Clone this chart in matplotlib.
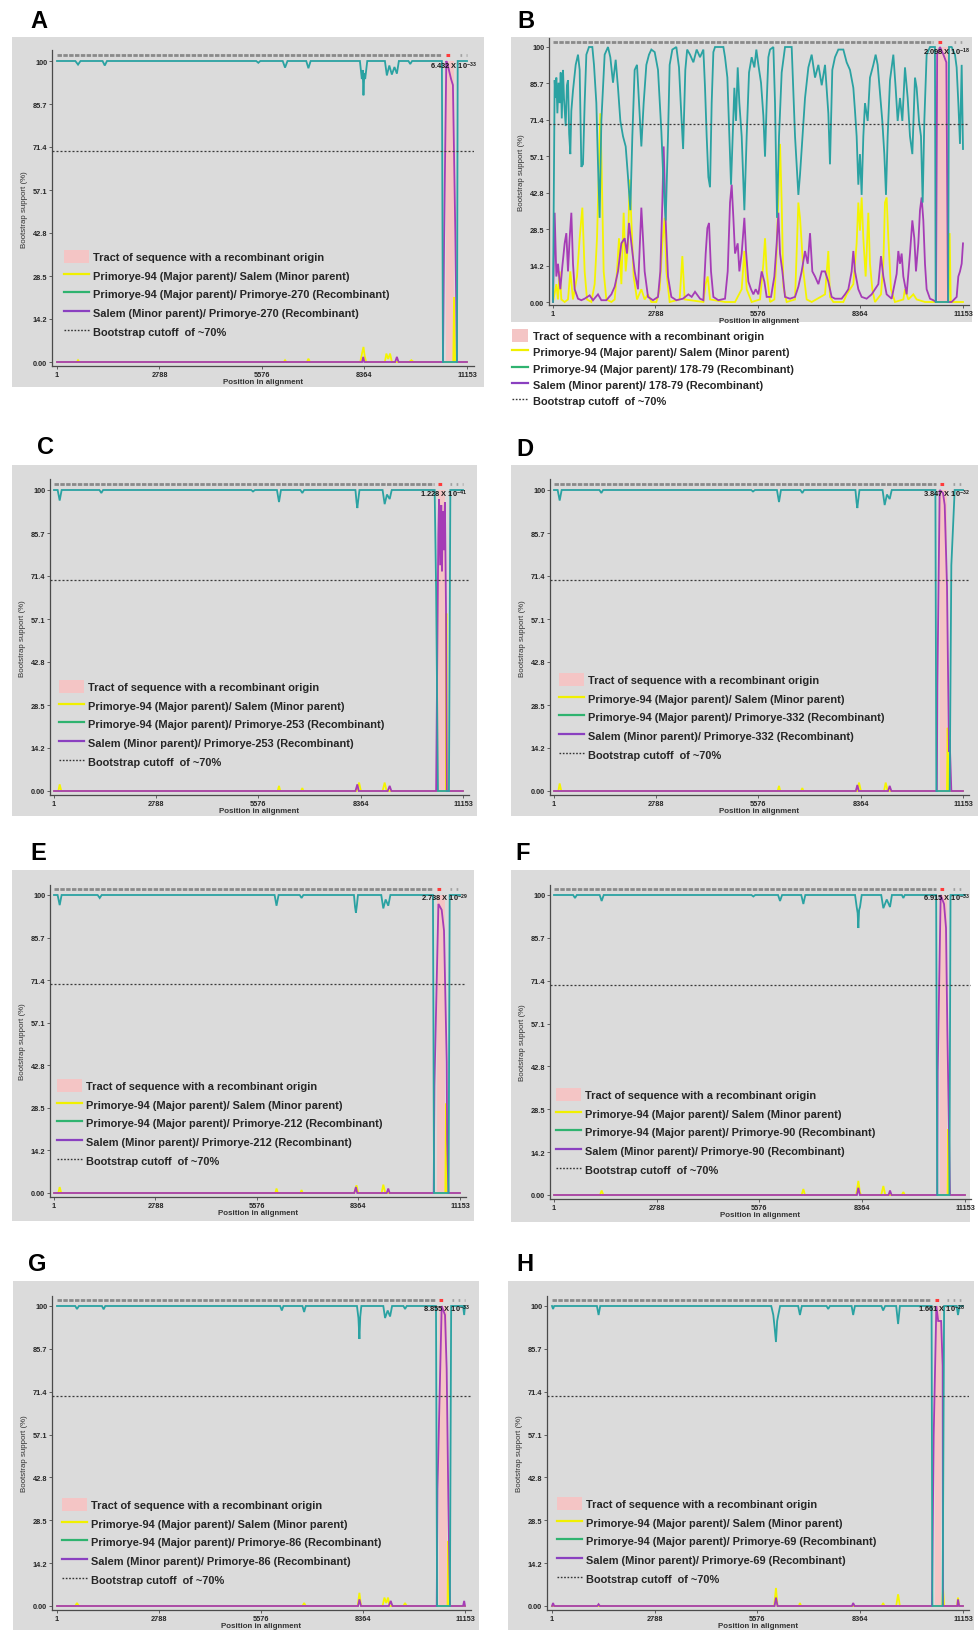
import numpy as np
import matplotlib.pyplot as plt
from matplotlib.lines import Line2D
from matplotlib.patches import Patch, Rectangle

plt.rcParams['font.family'] = ['Liberation Sans', 'DejaVu Sans']
plt.rcParams['mathtext.fontset'] = 'custom'
plt.rcParams['mathtext.bf'] = 'Liberation Sans:bold'
plt.rcParams['mathtext.rm'] = 'Liberation Sans'
plt.rcParams['mathtext.default'] = 'bf'

W, H = 979, 1631

# ---------------- data ----------------
X_TICKS = [1, 2788, 5576, 8364, 11153]
Y_TICKS = [0, 14.29, 28.57, 42.86, 57.14, 71.43, 85.71, 100]
Y_TICK_LABELS = ['0.00', '14.2', '28.5', '42.8', '57.1', '71.4', '85.7', '100']
CUTOFF = 70

# (position, bootstrap %) pairs
A_MAJOR = [(1, 100), (500, 100), (573, 98.8), (640, 100), (1240, 100), (1300, 98.5), (1360, 100),
           (5420, 100), (5477, 99.4), (5530, 100), (6140, 100), (6204, 97.8), (6270, 100), (6780, 100),
           (6839, 97.6), (6900, 100), (8240, 100), (8292, 94), (8315, 97), (8337, 88.6), (8360, 96),
           (8383, 94), (8440, 100), (8920, 100), (8973, 95.2), (9040, 98.5), (9109, 95.5), (9180, 98),
           (9246, 95.8), (9300, 100), (9560, 100), (9609, 99), (9660, 100), (10470, 100), (10499, 0),
           (10880, 0), (10900, 100), (11153, 100)]
A_MINOR = [(1, 0), (540, 0), (573, 0.6), (610, 0), (6170, 0), (6204, 0.6), (6240, 0), (6800, 0),
           (6839, 1.1), (6880, 0), (8250, 0), (8300, 3), (8337, 5), (8370, 2), (8410, 0), (8920, 0),
           (8960, 2.8), (9010, 1), (9060, 2.8), (9110, 0), (9580, 0), (9640, 0.6), (9700, 0),
           (10780, 0), (10800, 21.6), (10830, 0), (11153, 0)]
A_RECOMB = [(1, 0), (8300, 0), (8330, 1.7), (8360, 0), (9200, 0), (9246, 1.7), (9290, 0), (10499, 0),
            (10530, 41), (10590, 100), (10630, 98.6), (10720, 94), (10770, 92), (10835, 43),
            (10880, 0), (11153, 0)]
A_TRACT = (10589, 10807)

B_MAJOR = [(1, 0), (46, 87), (70, 80), (92, 88), (120, 74), (150, 86), (182, 78), (210, 90), (240, 72),
           (273, 91), (300, 80), (346, 69), (380, 85), (409, 87), (440, 66), (472, 58), (500, 75),
           (545, 83), (618, 93), (681, 97), (726, 91), (772, 53), (817, 54), (862, 78), (908, 97),
           (980, 100), (1071, 100), (1116, 93), (1180, 78), (1225, 54), (1270, 33), (1316, 71),
           (1406, 97), (1497, 100), (1560, 96), (1633, 86), (1706, 95), (1769, 84), (1833, 71),
           (1905, 65), (1978, 61), (2041, 49), (2105, 36), (2159, 65), (2222, 91), (2286, 93),
           (2340, 78), (2404, 61), (2467, 78), (2540, 93), (2612, 97), (2676, 99), (2767, 98),
           (2857, 91), (2948, 67), (3011, 45), (3066, 32), (3129, 65), (3174, 93), (3247, 99),
           (3356, 100), (3428, 92), (3492, 73), (3540, 60), (3600, 91), (3650, 99), (3728, 97),
           (3819, 94), (3909, 99), (4000, 96), (4091, 99), (4136, 84), (4181, 65), (4227, 49),
           (4272, 45), (4317, 78), (4363, 98), (4408, 100), (4635, 100), (4680, 96), (4744, 88),
           (4798, 65), (4843, 46), (4889, 65), (4934, 84), (4979, 71), (5025, 92), (5070, 78),
           (5133, 65), (5206, 36), (5269, 65), (5333, 90), (5405, 96), (5478, 92), (5532, 99),
           (5587, 93), (5659, 86), (5723, 73), (5768, 57), (5813, 78), (5859, 96), (5904, 99),
           (5995, 100), (6040, 78), (6094, 33), (6149, 65), (6221, 90), (6312, 100), (6493, 100),
           (6584, 65), (6675, 42), (6720, 50), (6765, 60), (6856, 80), (6947, 92), (7037, 97),
           (7128, 88), (7219, 93), (7310, 85), (7400, 93), (7490, 74), (7535, 54), (7598, 91),
           (7671, 96), (7762, 99), (7898, 99), (7988, 94), (8079, 91), (8170, 84), (8215, 75),
           (8260, 65), (8306, 46), (8351, 58), (8396, 42), (8442, 65), (8487, 78), (8560, 71),
           (8623, 88), (8714, 93), (8777, 97), (8832, 93), (8895, 82), (8958, 71), (9013, 58),
           (9058, 42), (9104, 65), (9167, 87), (9258, 97), (9321, 84), (9376, 71), (9439, 80),
           (9503, 71), (9575, 92), (9648, 80), (9711, 65), (9775, 58), (9847, 88), (9892, 84),
           (9956, 71), (10010, 65), (10056, 39), (10101, 71), (10164, 97), (10255, 100), (10390, 100),
           (10410, 0), (10750, 0), (10772, 100), (10844, 100), (10935, 97), (10980, 92), (11026, 78),
           (11071, 62), (11117, 93), (11153, 60)]
B_MINOR = [(1, 0), (92, 7), (137, 1), (182, 12), (228, 1), (318, 0), (409, 1), (472, 12), (545, 1),
           (654, 10), (726, 25), (799, 37), (862, 12), (926, 1), (1044, 0), (1134, 7), (1198, 25),
           (1252, 54), (1288, 74), (1325, 52), (1379, 12), (1452, 1), (1588, 0), (1678, 1), (1742, 12),
           (1796, 25), (1860, 7), (1923, 35), (1978, 12), (2041, 23), (2086, 48), (2132, 32),
           (2195, 10), (2286, 1), (2404, 5), (2494, 1), (2585, 3), (2676, 0), (2812, 0), (2903, 5),
           (2975, 23), (3038, 33), (3084, 12), (3174, 0), (3446, 1), (3519, 18), (3582, 1), (4091, 0),
           (4154, 7), (4209, 10), (4272, 1), (4680, 0), (4952, 0), (5133, 5), (5206, 20), (5269, 5),
           (5405, 0), (5632, 1), (5723, 15), (5768, 25), (5813, 12), (5904, 0), (6022, 1), (6085, 20),
           (6176, 62), (6221, 39), (6267, 6), (6357, 0), (6584, 1), (6675, 39), (6720, 33), (6765, 23),
           (6811, 12), (6901, 1), (7037, 0), (7400, 3), (7490, 20), (7535, 2), (7626, 0), (7898, 0),
           (7988, 3), (8079, 5), (8170, 7), (8260, 23), (8306, 39), (8351, 28), (8396, 41), (8442, 25),
           (8505, 10), (8578, 35), (8623, 15), (8686, 5), (8759, 0), (8922, 3), (8986, 15), (9031, 39),
           (9076, 41), (9122, 25), (9194, 5), (9303, 0), (9530, 1), (9575, 5), (9666, 1), (9802, 3),
           (9892, 1), (10119, 0), (10754, 0), (10790, 27), (10820, 0), (11153, 0)]
B_RECOMB = [(1, 0), (46, 35), (92, 10), (137, 15), (200, 5), (255, 14), (318, 23), (364, 27), (409, 12),
            (454, 25), (500, 35), (545, 15), (590, 5), (681, 1.3), (772, 0.7), (862, 1.3), (998, 2.6),
            (1089, 0.7), (1225, 3), (1316, 0.7), (1452, 0.7), (1588, 3), (1678, 6), (1769, 12),
            (1860, 23), (1950, 25), (2014, 19), (2068, 31), (2132, 23), (2222, 12), (2313, 5),
            (2404, 37), (2449, 25), (2494, 12), (2585, 2), (2721, 0.7), (2857, 2), (2920, 12),
            (2975, 39), (3011, 61), (3066, 32), (3129, 10), (3220, 2), (3356, 0.7), (3537, 1.3),
            (3683, 3), (3773, 2), (3864, 4), (4000, 1.3), (4091, 0.7), (4154, 19), (4200, 29),
            (4245, 31), (4299, 12), (4363, 2), (4499, 0.7), (4680, 1.3), (4753, 12), (4816, 39),
            (4861, 46), (4907, 33), (4952, 19), (5025, 23), (5070, 12), (5133, 19), (5206, 33),
            (5251, 20), (5315, 8), (5387, 5), (5451, 3), (5514, 5), (5587, 3), (5677, 12), (5750, 8),
            (5813, 2), (5931, 2), (6022, 10), (6085, 23), (6131, 35), (6176, 19), (6240, 12), (6312, 2),
            (6448, 1.3), (6584, 2), (6675, 6), (6765, 12), (6856, 20), (6929, 15), (6992, 27),
            (7055, 12), (7128, 10), (7219, 7), (7310, 12), (7400, 12), (7490, 8), (7580, 2),
            (7671, 1.3), (7852, 1.3), (7943, 3), (8034, 5), (8124, 12), (8170, 20), (8215, 12),
            (8306, 5), (8396, 2), (8532, 1.3), (8668, 3), (8759, 5), (8850, 7), (8922, 18), (8986, 10),
            (9076, 3), (9212, 1.3), (9348, 11), (9394, 20), (9439, 15), (9484, 19), (9530, 10),
            (9620, 3), (9711, 19), (9775, 32), (9829, 25), (9874, 12), (9938, 23), (9983, 36),
            (10028, 41), (10074, 32), (10119, 15), (10164, 5), (10255, 1.3), (10346, 0.7), (10420, 0),
            (10450, 97), (10527, 100), (10620, 97), (10700, 94), (10745, 0), (10844, 0), (10980, 2),
            (11026, 10), (11071, 12), (11117, 15), (11153, 23)]
B_TRACT = (10470, 10760)

C_MAJOR = [(1, 100), (100, 100), (156, 96.5), (210, 100), (1240, 100), (1292, 99), (1340, 100),
           (5380, 100), (5427, 99.5), (5480, 100), (6080, 100), (6136, 96), (6190, 100), (6720, 100),
           (6772, 99), (6820, 100), (8220, 100), (8250, 96), (8272, 94), (8295, 96.5), (8330, 100),
           (8960, 100), (9017, 95.3), (9080, 98.5), (9154, 97), (9210, 100), (10380, 100),
           (10420, 67), (10470, 0), (10770, 0), (10808, 100), (11153, 100)]
C_MINOR = [(1, 0), (120, 0), (156, 2.2), (200, 0), (6100, 0), (6136, 1.7), (6170, 0), (6740, 0),
           (6772, 1), (6800, 0), (8250, 0), (8320, 2.8), (8370, 0), (8960, 0), (9017, 2.8), (9070, 0),
           (10685, 0), (10700, 59), (10715, 0), (11153, 0)]
C_RECOMB = [(1, 0), (8220, 0), (8272, 2.2), (8310, 0), (9100, 0), (9154, 1.7), (9200, 0), (10420, 0),
            (10440, 29), (10480, 85), (10500, 97), (10530, 75), (10560, 95), (10580, 73), (10600, 93),
            (10630, 80), (10660, 96), (10690, 60), (10712, 0), (11153, 0)]
C_TRACT = (10472, 10654)

D_MAJOR = [(1, 100), (100, 100), (156, 96.5), (210, 100), (1240, 100), (1292, 99), (1340, 100),
           (5380, 100), (5427, 99.5), (5480, 100), (6080, 100), (6136, 96), (6190, 100), (6720, 100),
           (6772, 99), (6820, 100), (8220, 100), (8250, 96), (8272, 94), (8295, 96.5), (8330, 100),
           (8960, 100), (9017, 95), (9080, 98.5), (9154, 97), (9210, 100), (10400, 100), (10427, 0),
           (10790, 0), (10835, 75), (10926, 100), (11153, 100)]
D_MINOR = [(1, 0), (120, 0), (156, 2.5), (200, 0), (6100, 0), (6136, 1.7), (6170, 0), (6740, 0),
           (6772, 1), (6800, 0), (8270, 0), (8318, 2.8), (8370, 0), (9000, 0), (9045, 2.8), (9100, 0),
           (10715, 0), (10735, 21), (10755, 0), (11153, 0)]
D_RECOMB = [(1, 0), (8230, 0), (8272, 2), (8310, 0), (9110, 0), (9154, 1.7), (9200, 0), (10440, 0),
            (10454, 35), (10517, 100), (10608, 99), (10654, 95), (10717, 68), (10771, 13), (10790, 17),
            (10835, 0), (11153, 0)]
D_TRACT = (10536, 10718)

E_MAJOR = [(1, 100), (100, 100), (157, 96.6), (210, 100), (1200, 100), (1256, 99), (1310, 100),
           (6060, 100), (6113, 96.4), (6170, 100), (6750, 100), (6801, 99), (6850, 100), (8240, 100),
           (8270, 96), (8294, 94), (8320, 96.5), (8350, 100), (8990, 100), (9046, 95.5), (9110, 98.5),
           (9183, 96.4), (9240, 100), (10410, 100), (10440, 0), (10840, 0), (10870, 100), (11153, 100)]
E_MINOR = [(1, 0), (120, 0), (157, 2), (200, 0), (6080, 0), (6113, 1.5), (6150, 0), (6770, 0),
           (6801, 1), (6830, 0), (8250, 0), (8310, 2.6), (8360, 0), (9000, 0), (9046, 2.8), (9100, 0),
           (10750, 0), (10769, 30), (10790, 0), (11153, 0)]
E_RECOMB = [(1, 0), (8250, 0), (8294, 2), (8330, 0), (9140, 0), (9183, 1.5), (9220, 0), (10430, 0),
            (10450, 36), (10560, 97), (10650, 95), (10714, 88), (10788, 44), (10800, 18), (10833, 0),
            (11153, 0)]
E_TRACT = (10512, 10741)

F_MAJOR = [(1, 100), (520, 100), (571, 99), (620, 100), (1240, 100), (1294, 98), (1350, 100),
           (5360, 100), (5410, 99.5), (5460, 100), (6080, 100), (6134, 98), (6190, 100), (6710, 100),
           (6767, 97), (6820, 100), (8170, 100), (8214, 96), (8240, 94), (8259, 89), (8280, 95),
           (8304, 96), (8350, 100), (8880, 100), (8937, 95.6), (9030, 98.5), (9118, 96), (9170, 100),
           (9440, 100), (9480, 99), (9520, 100), (10370, 100), (10400, 0), (10730, 0), (10760, 100),
           (11153, 100)]
F_MINOR = [(1, 0), (1250, 0), (1294, 1.5), (1340, 0), (6720, 0), (6767, 2), (6810, 0), (8200, 0),
           (8259, 4.7), (8300, 1), (8330, 0), (8880, 0), (8937, 3), (8990, 0), (9440, 0), (9480, 1),
           (9520, 0), (10680, 0), (10701, 22), (10720, 0), (11153, 0)]
F_RECOMB = [(1, 0), (8220, 0), (8259, 2.4), (8300, 0), (9080, 0), (9118, 1.5), (9160, 0), (10400, 0),
            (10412, 41), (10493, 100), (10584, 97), (10638, 89), (10674, 55), (10746, 0), (11153, 0)]
F_TRACT = (10475, 10674)

G_MAJOR = [(1, 100), (500, 100), (547, 99), (600, 100), (1230, 100), (1276, 98.9), (1320, 100),
           (6100, 100), (6146, 98.5), (6190, 100), (6710, 100), (6756, 98), (6800, 100), (8200, 100),
           (8240, 96), (8267, 89), (8290, 96.5), (8320, 100), (8920, 100), (8968, 96), (9040, 98.5),
           (9105, 96.5), (9160, 100), (9470, 100), (9514, 99), (9560, 100), (10360, 100), (10390, 0),
           (10740, 0), (10775, 100), (11100, 100), (11130, 97), (11153, 100)]
G_MINOR = [(1, 0), (500, 0), (547, 1), (600, 0), (6710, 0), (6756, 1), (6800, 0), (8220, 0),
           (8267, 4.4), (8310, 0), (8900, 0), (8950, 2.8), (9000, 1), (9050, 2.8), (9090, 0), (9470, 0),
           (9514, 1), (9560, 0), (10675, 0), (10695, 21.7), (10720, 0), (11153, 0)]
G_RECOMB = [(1, 0), (8230, 0), (8267, 2.2), (8310, 0), (9070, 0), (9123, 1.7), (9170, 0), (10380, 0),
            (10400, 39), (10516, 100), (10607, 97), (10652, 79), (10698, 35), (10743, 0), (11100, 0),
            (11130, 1.7), (11153, 0)]
G_TRACT = (10452, 10652)

H_MAJOR = [(1, 100), (30, 99), (60, 100), (1220, 100), (1265, 97), (1310, 100), (5950, 100),
           (6006, 97), (6040, 93), (6078, 88), (6110, 95), (6141, 97), (6190, 100), (6680, 100),
           (6728, 97), (6780, 100), (7450, 100), (7496, 99), (7540, 100), (8130, 100), (8173, 97),
           (8220, 100), (8940, 100), (8986, 98.5), (9040, 100), (9340, 100), (9392, 94), (9440, 100),
           (10300, 100), (10322, 0), (10600, 0), (10640, 100), (10980, 100), (11017, 97), (11060, 100),
           (11153, 100)]
H_MINOR = [(1, 0), (6030, 0), (6078, 6), (6120, 0), (6700, 0), (6728, 1), (6760, 0), (8950, 0),
           (8986, 1), (9020, 0), (9340, 0), (9392, 3.9), (9440, 0), (10590, 0), (10611, 6), (10640, 0),
           (10990, 0), (11017, 2.8), (11050, 0), (11153, 0)]
H_RECOMB = [(1, 0), (30, 1), (60, 0), (1230, 0), (1265, 0.6), (1300, 0), (6040, 0), (6078, 2.8),
            (6120, 0), (8140, 0), (8173, 1), (8210, 0), (10310, 0), (10322, 14), (10358, 57),
            (10430, 100), (10480, 95), (10560, 95), (10600, 80), (10611, 0), (11000, 0), (11017, 2.2),
            (11050, 0), (11153, 0)]
H_TRACT = (10385, 10565)

RECOMBINANTS = {'A': 'Primorye-270', 'B': '178-79', 'C': 'Primorye-253', 'D': 'Primorye-332',
                'E': 'Primorye-212', 'F': 'Primorye-90', 'G': 'Primorye-86', 'H': 'Primorye-69'}
PVALUES = {'A': ('6.432', '-33'), 'B': ('2.098', '-18'), 'C': ('1.228', '-41'), 'D': ('3.847', '-32'),
           'E': ('2.738', '-29'), 'F': ('6.915', '-33'), 'G': ('8.855', '-33'), 'H': ('1.661', '-28')}

SERIES = {
    'A': (A_MAJOR, A_MINOR, A_RECOMB, A_TRACT),
    'B': (B_MAJOR, B_MINOR, B_RECOMB, B_TRACT),
    'C': (C_MAJOR, C_MINOR, C_RECOMB, C_TRACT),
    'D': (D_MAJOR, D_MINOR, D_RECOMB, D_TRACT),
    'E': (E_MAJOR, E_MINOR, E_RECOMB, E_TRACT),
    'F': (F_MAJOR, F_MINOR, F_RECOMB, F_TRACT),
    'G': (G_MAJOR, G_MINOR, G_RECOMB, G_TRACT),
    'H': (H_MAJOR, H_MINOR, H_RECOMB, H_TRACT),
}

# ---------------- layout (pixels) ----------------
# box: grey panel; x1/x2: pixel of position 1 / 11153; y0/y100: pixel of 0 / 100 %
LAYOUT = {
    'A': dict(box=(12, 38, 484, 388), letter=(39, 22), x1=57, x2=467, y0=363, y100=62, left=52, bottom=367, right=474, leg=(64, 251), note=(477, 66)),
    'B': dict(box=(511, 38, 972, 323), letter=(526, 21), x1=553, x2=963, y0=303, y100=48, left=549, bottom=306, right=969, leg=(512, 330), note=(970, 52)),
    'C': dict(box=(12, 466, 477, 817), letter=(46, 448), x1=54, x2=463, y0=792, y100=491, left=50, bottom=796, right=469, leg=(59, 681), note=(467, 494)),
    'D': dict(box=(511, 466, 978, 817), letter=(525, 449), x1=554, x2=963, y0=792, y100=491, left=550, bottom=796, right=969, leg=(559, 674), note=(970, 494)),
    'E': dict(box=(12, 871, 474, 1222), letter=(38, 853), x1=54, x2=460, y0=1194, y100=896, left=50, bottom=1198, right=466, leg=(57, 1080), note=(468, 898)),
    'F': dict(box=(511, 871, 970, 1223), letter=(523, 853), x1=554, x2=965, y0=1196, y100=896, left=550, bottom=1200, right=971, leg=(556, 1089), note=(970, 898)),
    'G': dict(box=(13, 1282, 479, 1631), letter=(37, 1265), x1=57, x2=465, y0=1607, y100=1307, left=52, bottom=1611, right=471, leg=(62, 1499), note=(470, 1309)),
    'H': dict(box=(508, 1282, 974, 1631), letter=(525, 1265), x1=552, x2=963, y0=1607, y100=1307, left=547, bottom=1611, right=969, leg=(557, 1498), note=(965, 1309)),
}

TEAL = '#2aa2a2'
YELLOW = '#f4f400'
PURPLE = '#a53cb6'
PINK = '#f4c5c5'
GREY_BG = '#dbdbdb'
TEXT = '#262626'


def fx(px):
    return px / W


def fy(py):
    return 1 - py / H


def draw_panel(fig, key):
    lay = LAYOUT[key]
    major, minor, recomb, tract = SERIES[key]

    bx0, by0, bx1, by1 = lay['box']
    fig.add_artist(Rectangle((fx(bx0), fy(by1)), fx(bx1 - bx0), (by1 - by0) / H,
                             transform=fig.transFigure, facecolor=GREY_BG, edgecolor='none', zorder=-5))
    fig.text(fx(lay['letter'][0]), fy(lay['letter'][1]), key, fontsize=17, fontweight='bold',
             ha='center', va='center')

    # data <-> pixel mapping
    xs = (lay['x2'] - lay['x1']) / 11152
    ys = (lay['y0'] - lay['y100']) / 100
    top = lay['y0'] - 103.5 * ys
    ax = fig.add_axes([fx(lay['left']), fy(lay['bottom']),
                       (lay['right'] - lay['left']) / W, (lay['bottom'] - top) / H])
    ax.set_xlim(1 + (lay['left'] - lay['x1']) / xs, 1 + (lay['right'] - lay['x1']) / xs)
    ax.set_ylim((lay['y0'] - lay['bottom']) / ys, 103.5)
    ax.patch.set_alpha(0)

    ax.fill_between(list(tract), 0, 100, color=PINK, lw=0, zorder=1)
    for pts, col, z in [(minor, YELLOW, 2), (recomb, PURPLE, 3), (major, TEAL, 4)]:
        arr = np.array(pts, dtype=float)
        ax.plot(arr[:, 0], arr[:, 1], color=col, lw=1.3, zorder=z, solid_joinstyle='miter')
    ax.axhline(CUTOFF, color='#3a3a3a', lw=0.9, ls=(0, (1.6, 1.6)), zorder=5)

    # sequence strip along the top
    ax.plot([1, tract[0] - 120], [102, 102], color='#8a8a8a', lw=2.0, dashes=(1.6, 0.5),
            solid_capstyle='butt', clip_on=False, zorder=5)
    ax.plot([tract[0], tract[0] + 0.6 * (tract[1] - tract[0])], [102, 102], color='#ff3b3b',
            lw=2.2, dashes=(1.2, 1.0), clip_on=False, zorder=5)
    ax.plot([tract[1] + 150, 11153], [102, 102], color='#a0a0a0', lw=2.0, dashes=(0.6, 1.6),
            clip_on=False, zorder=5)

    for s in ['top', 'right']:
        ax.spines[s].set_visible(False)
    for s in ['left', 'bottom']:
        ax.spines[s].set_color('#4a4a4a')
        ax.spines[s].set_linewidth(0.9)
    ax.set_xticks(X_TICKS, labels=[str(v) for v in X_TICKS])
    ax.set_yticks(Y_TICKS, labels=Y_TICK_LABELS)
    ax.tick_params(labelsize=5.3, length=2, width=0.6, pad=1.5, colors='#4a4a4a', labelcolor=TEXT)
    for lab in ax.get_xticklabels() + ax.get_yticklabels():
        lab.set_fontweight('bold')
    ax.set_xlabel('Position in alignment', fontsize=5.7, fontweight='bold', color='#333333', labelpad=0)
    ax.set_ylabel('Bootstrap support (%)', fontsize=5.7, color='#333333', labelpad=3)

    mant, expo = PVALUES[key]
    fig.text(fx(lay['note'][0]), fy(lay['note'][1]), mant + ' X 10$^{' + expo + '}$',
             fontsize=5.4, fontweight='bold', ha='right', va='center', color='#1a1a1a', zorder=10)

    iso = RECOMBINANTS[key]
    handles = [Patch(facecolor=PINK, edgecolor='none'),
               Line2D([], [], color='#f0f000', lw=1.6),
               Line2D([], [], color='#2fb36f', lw=1.6),
               Line2D([], [], color='#8a40c0', lw=1.6),
               Line2D([], [], color='#333333', lw=1.0, ls=(0, (1.2, 1.2)))]
    labels = ['Tract of sequence with a recombinant origin',
              'Primorye-94 (Major parent)/ Salem (Minor parent)',
              'Primorye-94 (Major parent)/ ' + iso + ' (Recombinant)',
              'Salem (Minor parent)/ ' + iso + ' (Recombinant)',
              'Bootstrap cutoff  of ~70%']
    if key == 'B':
        opts = dict(handlelength=1.5, labelspacing=0.33, handletextpad=0.45)
    else:
        opts = dict(handlelength=2.3, labelspacing=0.55, handletextpad=0.37)
    leg = ax.legend(handles, labels, loc='upper left',
                    bbox_to_anchor=(fx(lay['leg'][0]), fy(lay['leg'][1])),
                    bbox_transform=fig.transFigure, frameon=False, borderpad=0, borderaxespad=0,
                    handleheight=1.4, prop=dict(weight='bold', size=7.9), **opts)
    for t in leg.get_texts():
        t.set_color(TEXT)
    leg.set_zorder(10)


fig = plt.figure(figsize=(W / 100, H / 100), dpi=100)
fig.patch.set_facecolor('white')
for k in 'ABCDEFGH':
    draw_panel(fig, k)
fig.savefig('out.png', dpi=100)
